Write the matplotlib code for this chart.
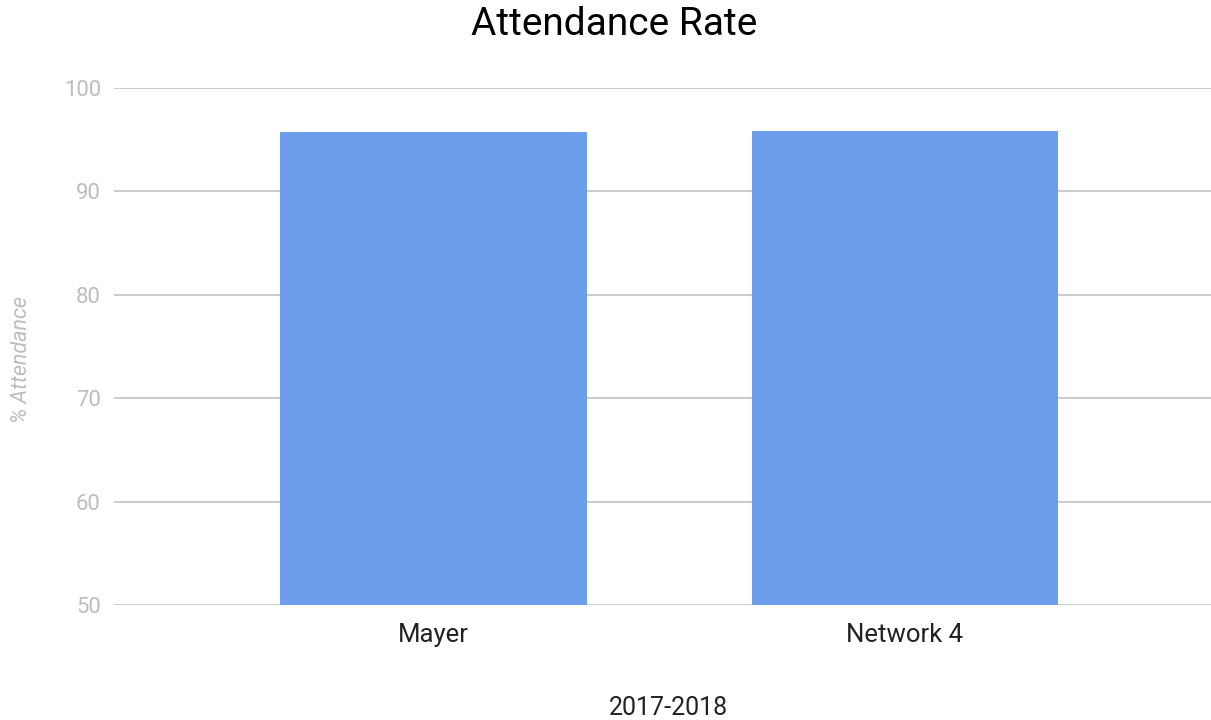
import matplotlib
matplotlib.use("Agg")
import matplotlib.pyplot as plt

categories = ["Mayer", "Network 4"]
values = [95.7, 95.85]
yticks = [50, 60, 70, 80, 90, 100]

plt.rcParams['font.family'] = ['Roboto', 'DejaVu Sans']

fig = plt.figure(figsize=(12.11, 7.2), dpi=100)
ax = fig.add_axes([0.0941, 0.1593, 1 - 0.0941, 0.878 - 0.1593])

x = list(range(len(categories)))
ax.bar(x, values, width=0.65, color="#6d9eeb", zorder=3)
ax.set_xlim(-0.677, 1.649)
ax.set_ylim(50, 100)
ax.set_yticks(yticks)
ax.set_yticklabels([str(v) for v in yticks], color="#bdbdbd", fontsize=15.9)
ax.set_xticks(x)
ax.set_xticklabels(categories, fontsize=18.5, color="#222222")
ax.tick_params(axis='both', length=0)
ax.tick_params(axis='y', pad=9.5)
ax.tick_params(axis='x', pad=13)
ax.grid(axis='y', color="#cccccc", linewidth=1.4, zorder=0)
for s in ax.spines.values():
    s.set_visible(False)

fig.text(0.0175, 0.5, "% Attendance", rotation=90, ha='center', va='center',
         color="#bdbdbd", fontsize=15.5, style='italic')
fig.text(0.5516, 0.017, "2017-2018", ha='center', va='center',
         fontsize=18, color="#222222")
fig.text(0.507, 0.966, "Attendance Rate", ha='center', va='center',
         fontsize=28, color="#000000")

fig.savefig("out.png", dpi=100)
